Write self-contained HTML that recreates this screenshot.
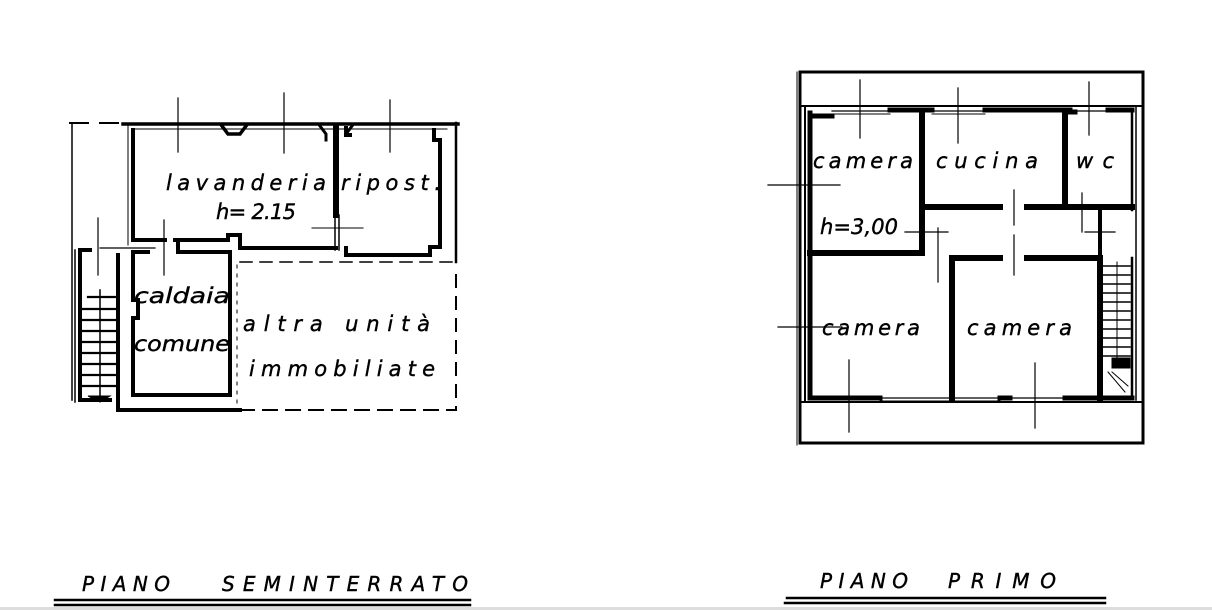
<!DOCTYPE html>
<html><head><meta charset="utf-8"><style>
html,body{margin:0;padding:0;background:#fff;}
svg{display:block}
text{font-family:"DejaVu Sans","Liberation Sans",sans-serif;font-style:italic;fill:#000;stroke:#000;stroke-width:0.4;}
</style></head><body>
<svg width="1212" height="610" viewBox="0 0 1212 610" xmlns="http://www.w3.org/2000/svg">
<rect width="1212" height="610" fill="#fff"/>
<g stroke="#000" fill="none" stroke-linecap="square">
<path d="M70 123 H88 M100 123 H118" stroke-width="2"/>
<line x1="72" y1="123" x2="72" y2="400" stroke-width="1.5"/>
<line x1="123" y1="124" x2="458" y2="124" stroke-width="3.5"/>
<line x1="133" y1="129" x2="447" y2="129" stroke-width="1"/>
<line x1="456" y1="123" x2="456" y2="262" stroke-width="2.5"/>
<path d="M133 130 V240 H165 M175 240 H228 V235 H240 V248 H336" stroke-width="4"/>
<line x1="128" y1="126" x2="128" y2="245" stroke-width="1"/>
<line x1="336" y1="128" x2="336" y2="215" stroke-width="6"/>
<line x1="335" y1="215" x2="335" y2="250" stroke-width="1.5"/>
<line x1="339" y1="215" x2="339" y2="250" stroke-width="1.5"/>
<path d="M346 128 V135 H350 M346 248 V255 H430 V247 H440 V140 H434 V130" stroke-width="4"/>
<path d="M222 126 L228 134 H240 L246 126" stroke-width="3.5"/>
<path d="M320 126 L326 134 V140 M352 126 L346 134" stroke-width="3"/>
<line x1="312" y1="228" x2="363" y2="228" stroke-width="1"/>
<path d="M148 252 H133 V300 H138 V318 H133 V395 H230 V252 H178 V242" stroke-width="4"/>
<path d="M118 255 V410 H240" stroke-width="4"/>
<line x1="240" y1="262" x2="456" y2="262" stroke-width="1.5" stroke-dasharray="12 8"/>
<line x1="456" y1="275" x2="456" y2="410" stroke-width="2" stroke-dasharray="12 10"/>
<line x1="240" y1="410" x2="456" y2="410" stroke-width="2" stroke-dasharray="14 9"/>
<line x1="237" y1="265" x2="237" y2="405" stroke-width="1" stroke-dasharray="3 6"/>
<path d="M80 400 V250 H90 M110 400 H80" stroke-width="4"/>
<line x1="75" y1="250" x2="75" y2="402" stroke-width="1.5"/>
<line x1="118" y1="260" x2="118" y2="400" stroke-width="2.5"/>
<line x1="100" y1="290" x2="100" y2="395" stroke-width="1.5"/>
<path d="M88 297H117 M82 309H117 M82 320H117 M82 331H117 M82 342H117 M82 353H117 M82 364H117 M82 375H117 M82 386H117" stroke-width="2.2"/>
<path d="M88 396 L110 396 L100 402 Z" fill="#000" stroke-width="1"/>
<path d="M178 98V152 M284 93V153 M390 100V152 M98 218V275 M164 220V275 M100 248H155" stroke-width="1.2"/>

<rect x="800" y="72" width="343" height="371" stroke-width="3"/>
<line x1="797" y1="72" x2="797" y2="445" stroke-width="1"/>
<line x1="800" y1="106" x2="1143" y2="106" stroke-width="2"/>
<line x1="800" y1="402" x2="1143" y2="402" stroke-width="2"/>
<line x1="805" y1="106" x2="805" y2="400" stroke-width="2"/>
<line x1="1136" y1="106" x2="1136" y2="400" stroke-width="1.5"/>
<path d="M810 113 V116 H832 M890 110 H932 M985 110 H1070 M1108 110 H1132 M1066 112 H1075" stroke-width="5"/>
<line x1="832" y1="111" x2="890" y2="111" stroke-width="1.2"/>
<line x1="832" y1="114" x2="890" y2="114" stroke-width="1"/>
<line x1="932" y1="111" x2="985" y2="111" stroke-width="1.2"/>
<line x1="932" y1="114" x2="985" y2="114" stroke-width="1"/>
<line x1="1075" y1="111" x2="1108" y2="111" stroke-width="1.2"/>
<line x1="810" y1="115" x2="810" y2="398" stroke-width="5"/>
<line x1="1132" y1="112" x2="1132" y2="210" stroke-width="2.5"/>
<path d="M922 115 V253 H810" stroke-width="6"/>
<path d="M922 207 H1000 M1027 207 H1132" stroke-width="6"/>
<line x1="1065" y1="115" x2="1065" y2="207" stroke-width="6"/>
<path d="M952 398 V258 H1000 M1027 258 H1100 V398" stroke-width="6"/>
<line x1="1100" y1="210" x2="1100" y2="258" stroke-width="4"/>
<path d="M810 398 H880 M1000 398 H1010 M1065 398 H1132" stroke-width="5"/>
<line x1="880" y1="398" x2="1000" y2="398" stroke-width="1.2"/>
<line x1="880" y1="401" x2="1000" y2="401" stroke-width="1"/>
<line x1="1010" y1="398" x2="1065" y2="398" stroke-width="1.2"/>
<line x1="1132" y1="258" x2="1132" y2="398" stroke-width="2.5"/>
<path d="M1103 266H1130 M1103 275H1130 M1103 284H1130 M1103 293H1130 M1103 302H1130 M1103 311H1130 M1103 320H1130 M1103 329H1130 M1103 338H1130 M1103 347H1130 M1103 356H1130" stroke-width="1.5"/>
<line x1="1117" y1="262" x2="1117" y2="360" stroke-width="1"/>
<rect x="1112" y="358" width="18" height="10" fill="#000" stroke-width="1"/>
<path d="M1108 372 L1125 392 M1112 372 L1128 386" stroke-width="1"/>
<path d="M860 80V138 M958 88V143 M1089 82V135 M1014 190V225 M1014 235V275 M938 228V282 M849 360V432 M1035 363V428 M768 185H840 M778 327H842 M905 232H948 M1085 232H1115 M1082 193V232" stroke-width="1.2"/>

<line x1="55" y1="600" x2="470" y2="600" stroke-width="2.5"/>
<line x1="55" y1="605" x2="470" y2="605" stroke-width="2.5"/>
<line x1="787" y1="598" x2="1105" y2="598" stroke-width="2.5"/>
<line x1="785" y1="603" x2="1105" y2="603" stroke-width="2.5"/>
</g>
<rect x="0" y="607" width="1212" height="3" fill="#ddd"/>
<g font-size="21">
<text x="166" y="190" textLength="160" lengthAdjust="spacing">lavanderia</text>
<text x="216" y="219" textLength="80" lengthAdjust="spacing">h= 2.15</text>
<text x="341" y="190" textLength="100" lengthAdjust="spacing">ripost.</text>
<text x="134" y="303" textLength="96" lengthAdjust="spacingAndGlyphs">caldaia</text>
<text x="134" y="351" textLength="96" lengthAdjust="spacingAndGlyphs">comune</text>
<text x="243" y="331" textLength="187" lengthAdjust="spacing">altra  unità</text>
<text x="249" y="376" textLength="186" lengthAdjust="spacing">immobiliate</text>
<text x="813" y="168" textLength="100" lengthAdjust="spacing">camera</text>
<text x="936" y="168" textLength="102" lengthAdjust="spacing">cucina</text>
<text x="1076" y="168" textLength="38" lengthAdjust="spacing">wc</text>
<text x="820" y="234" textLength="78" lengthAdjust="spacing">h=3,00</text>
<text x="822" y="335" textLength="98" lengthAdjust="spacing">camera</text>
<text x="967" y="335" textLength="105" lengthAdjust="spacing">camera</text>
</g>
<g font-size="20">
<text x="82" y="591" textLength="88" lengthAdjust="spacing">PIANO</text>
<text x="222" y="591" textLength="246" lengthAdjust="spacing">SEMINTERRATO</text>
<text x="820" y="588" textLength="88" lengthAdjust="spacing">PIANO</text>
<text x="948" y="588" textLength="108" lengthAdjust="spacing">PRIMO</text>
</g>
</svg>
</body></html>
